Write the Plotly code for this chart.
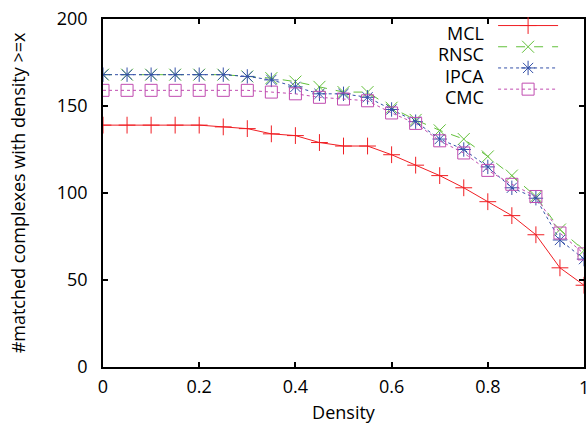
import plotly.graph_objects as go

density = [0, 0.05, 0.1, 0.15, 0.2, 0.25, 0.3, 0.35, 0.4, 0.45, 0.5,
           0.55, 0.6, 0.65, 0.7, 0.75, 0.8, 0.85, 0.9, 0.95, 1.0]
mcl = [139, 139, 139, 139, 139, 138, 137, 134, 133, 129, 127,
       127, 122, 116, 110, 103, 95, 87, 76, 57, 47]
rnsc = [168, 168, 168, 168, 168, 168, 167, 166, 164, 161, 158,
        158, 149, 142, 136, 131, 121, 110, 98, 79, 67]
ipca = [168, 168, 168, 168, 168, 168, 167, 165, 161, 157, 157,
        155, 148, 141, 131, 125, 115, 103, 97, 73, 62]
cmc = [159, 159, 159, 159, 159, 159, 159, 158, 157, 155, 154,
       153, 146, 140, 130, 123, 113, 105, 98, 77, 65]
names = ["MCL", "RNSC", "IPCA", "CMC"]
x_tickvals = [0, 0.2, 0.4, 0.6, 0.8, 1]
x_ticktext = ["0", "0.2", "0.4", "0.6", "0.8", "1"]
y_tickvals = [0, 50, 100, 150, 200]

styles = [
    ("#f01e23", "solid", "cross-thin-open"),
    ("#62c03a", "dash", "x-thin-open"),
    ("#3450a8", "dot", "asterisk-open"),
    ("#c04cb0", "dot", "square-open"),
]

fig = go.Figure()
for name, ys, (color, dash, sym) in zip(names, [mcl, rnsc, ipca, cmc], styles):
    fig.add_trace(go.Scatter(
        x=density, y=ys, name=" ", mode="lines+markers",
        line=dict(color=color, width=1, dash=dash),
        marker=dict(symbol=sym, size=12, color=color,
                    line=dict(color=color, width=1)),
    ))

# legend labels drawn right-aligned to the left of the legend keys (gnuplot style)
label_y = [0.959, 0.8986, 0.8353, 0.775]
for name, yy in zip(names, label_y):
    fig.add_annotation(text=name, xref="paper", yref="paper", x=0.7964, y=yy,
                       xanchor="right", yanchor="middle", showarrow=False,
                       height=20, font=dict(size=18, color="black"))

# the last x tick label sits on the right edge of the page; draw it as text so it is not dropped
fig.add_annotation(text=x_ticktext[-1], xref="x", yref="paper", x=x_tickvals[-1], y=0,
                   xanchor="center", yanchor="middle", yshift=-20, showarrow=False,
                   font=dict(size=18, color="black"))
shown_ticktext = x_ticktext[:-1] + [""]

font = "Open Sans, Noto Sans, sans-serif"
axis_common = dict(
    showline=True, linecolor="black", linewidth=1.5, mirror="ticks",
    ticks="inside", ticklen=5, tickcolor="black", tickwidth=1.5,
    showgrid=False, zeroline=False, automargin=False,
    ticklabeloverflow="allow",
    tickfont=dict(family=font, size=18, color="black"),
)
fig.update_layout(
    width=588, height=429,
    margin=dict(l=103, r=4, t=19, b=62),
    paper_bgcolor="white", plot_bgcolor="white",
    font=dict(family=font, color="black"),
    xaxis=dict(range=[0, 1], tickvals=x_tickvals, ticktext=shown_ticktext,
               ticklabelstandoff=3,
               title=dict(text="Density", font=dict(size=18), standoff=9),
               **axis_common),
    yaxis=dict(range=[0, 200], tickvals=y_tickvals,
               ticklabelstandoff=10,
               title=dict(text="#matched complexes with density >=x",
                          font=dict(size=18), standoff=26),
               **axis_common),
    legend=dict(x=0.811, y=1.026, xanchor="left", yanchor="top",
                bgcolor="rgba(255,255,255,0)", font=dict(size=14, family=font),
                itemwidth=60, tracegroupgap=0),
)
fig.write_html(
    "out.html",
    config={"displayModeBar": False},
    post_script="document.body.style.margin='0';document.body.style.overflow='hidden';",
)
